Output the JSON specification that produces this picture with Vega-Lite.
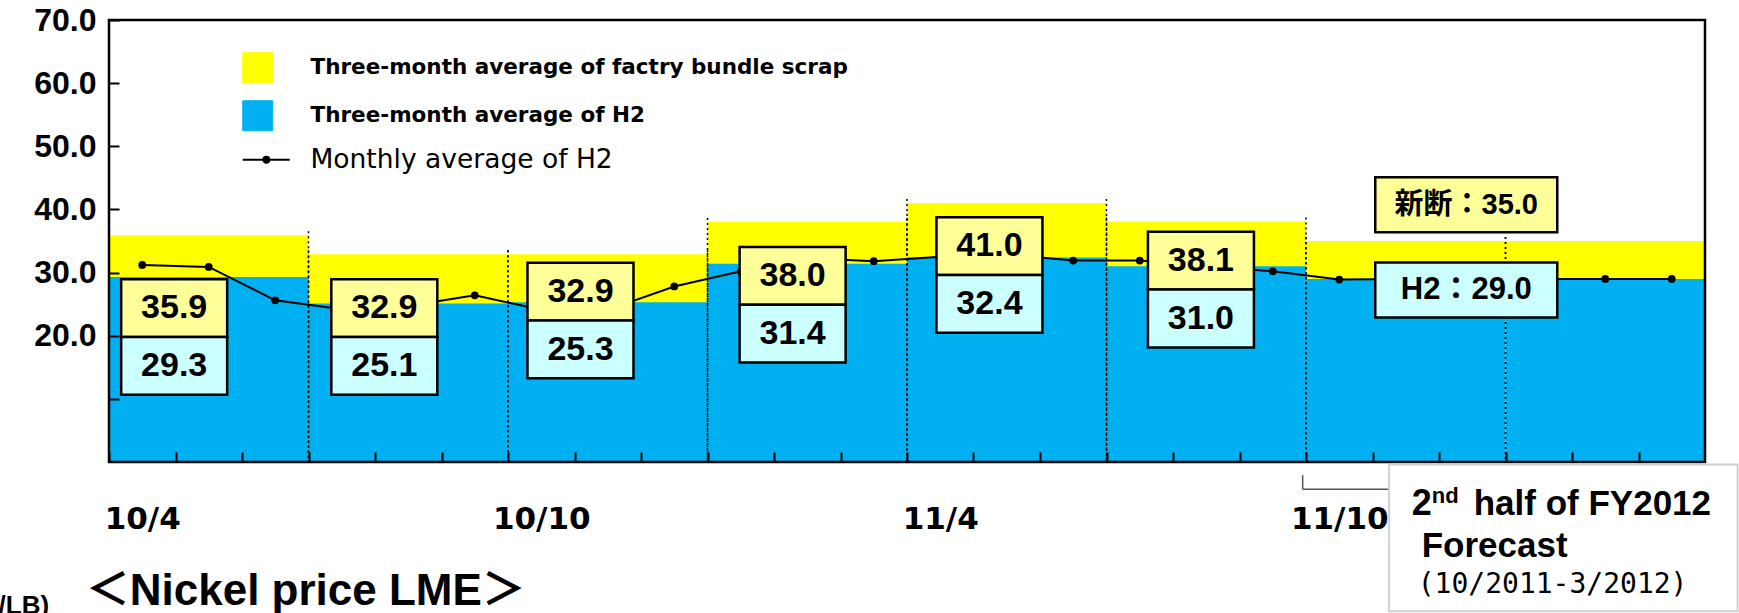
{
  "$schema": "https://vega.github.io/schema/vega-lite/v6.json",
  "width": 1596,
  "height": 442,
  "autosize": {"type": "none"},
  "padding": {"left": 109, "top": 20, "right": 34, "bottom": 151},
  "background": "white",
  "config": {"view": {"stroke": null}},
  "datasets": {
    "quarters": [
      {"period": "2010/4-6", "first": 0, "last": 2, "scrap": 35.9, "h2": 29.3, "boxMonth": 0.48, "boxLevel": 19.8},
      {"period": "2010/7-9", "first": 3, "last": 5, "scrap": 32.9, "h2": 25.1, "boxMonth": 3.64, "boxLevel": 19.8},
      {"period": "2010/10-12", "first": 6, "last": 8, "scrap": 32.9, "h2": 25.3, "boxMonth": 6.59, "boxLevel": 22.4},
      {"period": "2011/1-3", "first": 9, "last": 11, "scrap": 38.0, "h2": 31.4, "boxMonth": 9.78, "boxLevel": 24.9},
      {"period": "2011/4-6", "first": 12, "last": 14, "scrap": 41.0, "h2": 32.4, "boxMonth": 12.74, "boxLevel": 29.6},
      {"period": "2011/7-9", "first": 15, "last": 17, "scrap": 38.1, "h2": 31.0, "boxMonth": 15.92, "boxLevel": 27.3},
      {"period": "2011/10-12", "first": 18, "last": 20, "scrap": 35.0, "h2": 29.0},
      {"period": "2012/1-3", "first": 21, "last": 23, "scrap": 35.0, "h2": 29.0}
    ],
    "monthly": [
      {"month": "2010-04", "m": 0, "h2": 31.2},
      {"month": "2010-05", "m": 1, "h2": 30.9},
      {"month": "2010-06", "m": 2, "h2": 25.6},
      {"month": "2010-07", "m": 3, "h2": 24.2},
      {"month": "2010-08", "m": 4, "h2": 24.7},
      {"month": "2010-09", "m": 5, "h2": 26.4},
      {"month": "2010-10", "m": 6, "h2": 24.1},
      {"month": "2010-11", "m": 7, "h2": 24.1},
      {"month": "2010-12", "m": 8, "h2": 27.8},
      {"month": "2011-01", "m": 9, "h2": 30.2},
      {"month": "2011-02", "m": 10, "h2": 32.3},
      {"month": "2011-03", "m": 11, "h2": 31.8},
      {"month": "2011-04", "m": 12, "h2": 32.5},
      {"month": "2011-05", "m": 13, "h2": 32.9},
      {"month": "2011-06", "m": 14, "h2": 31.9},
      {"month": "2011-07", "m": 15, "h2": 31.9},
      {"month": "2011-08", "m": 16, "h2": 31.0},
      {"month": "2011-09", "m": 17, "h2": 30.2},
      {"month": "2011-10", "m": 18, "h2": 28.9},
      {"month": "2011-11", "m": 19, "h2": 29.0},
      {"month": "2011-12", "m": 20, "h2": 29.0},
      {"month": "2012-01", "m": 21, "h2": 29.0},
      {"month": "2012-02", "m": 22, "h2": 29.0},
      {"month": "2012-03", "m": 23, "h2": 29.0}
    ],
    "forecast": [
      {"period": "2011/10-2012/3", "scrap": 35.0, "h2": 29.0, "boxMonth": 19.91, "scrapLevel": 40.75, "h2Level": 27.24}
    ]
  },
  "layer": [
    {
      "data": {"name": "quarters"},
      "mark": {"type": "rect", "xOffset": -33.25, "x2Offset": 33.25},
      "encoding": {
        "x": {
          "field": "first", "type": "quantitative", "title": null,
          "scale": {"domain": [-0.5, 23.5], "nice": false, "zero": false},
          "axis": {
            "title": null,
            "values": [-0.5, 0.5, 1.5, 2.5, 3.5, 4.5, 5.5, 6.5, 7.5, 8.5, 9.5, 10.5, 11.5, 12.5, 13.5, 14.5, 15.5, 16.5, 17.5, 18.5, 19.5, 20.5, 21.5, 22.5],
            "domain": false, "grid": false,
            "tickColor": "black", "tickWidth": 2, "tickSize": -10,
            "labelExpr": "(datum.value + 0.5) % 6 === 0 ? (10 + floor((datum.value + 3.5) / 12)) + '/' + ((datum.value + 3.5) % 12 + 1) : ''",
            "labelOffset": 33.25,
            "labelFont": "DejaVu Sans", "labelFontSize": 31, "labelFontWeight": "bold", "labelColor": "black",
            "labelPadding": 52, "labelOverlap": false, "labelBound": false, "labelFlush": false, "zindex": 1
          }
        },
        "x2": {"field": "last"},
        "y": {
          "field": "scrap", "type": "quantitative", "title": null,
          "scale": {"domain": [0, 70], "nice": false},
          "axis": {
            "title": null,
            "values": [10, 20, 30, 40, 50, 60, 70],
            "domain": false, "grid": false,
            "tickColor": "black", "tickWidth": 2, "tickSize": -10,
            "labelExpr": "datum.value >= 20 ? format(datum.value, '.1f') : ''",
            "labelFont": "Liberation Sans", "labelFontSize": 32, "labelFontWeight": "bold", "labelColor": "black",
            "labelPadding": 23, "labelOverlap": false, "labelBound": false, "labelFlush": false, "zindex": 1
          }
        },
        "y2": {"datum": 0},
        "color": {
          "datum": "Three-month average of factry bundle scrap",
          "type": "nominal",
          "scale": {
            "domain": ["Three-month average of factry bundle scrap", "Three-month average of H2", "Monthly average of H2"],
            "range": ["#FFFF00", "#00B0F0", "#000000"]
          },
          "legend": {
            "title": null, "orient": "none", "legendX": 138, "legendY": 37, "direction": "vertical",
            "padding": 0, "symbolSize": 900, "rowPadding": 13, "labelOffset": 42,
            "labelFont": "DejaVu Sans", "labelFontSize": 21.5, "labelFontWeight": "bold", "labelColor": "black", "labelLimit": 900,
            "encode": {
              "symbols": {"update": {
                "shape": {"signal": "datum.value === 'Monthly average of H2' ? 'M-1,0L2.13,0M0.37,0A0.2,0.2,0,1,1,0.77,0A0.2,0.2,0,1,1,0.37,0Z' : 'square'"},
                "fill": {"signal": "scale('color', datum.value)"},
                "stroke": {"signal": "datum.value === 'Monthly average of H2' ? '#000000' : '#d9d9d9'"},
                "strokeWidth": {"signal": "datum.value === 'Monthly average of H2' ? 2 : 1"},
                "opacity": {"value": 1}, "fillOpacity": {"value": 1}
              }},
              "labels": {"update": {
                "fontWeight": {"signal": "datum.value === 'Monthly average of H2' ? 'normal' : 'bold'"},
                "fontSize": {"signal": "datum.value === 'Monthly average of H2' ? 26.5 : 21.5"}
              }}
            }
          }
        }
      }
    },
    {
      "data": {"name": "quarters"},
      "mark": {"type": "rect", "xOffset": -33.25, "x2Offset": 33.25},
      "encoding": {
        "x": {"field": "first", "type": "quantitative", "title": null},
        "x2": {"field": "last"},
        "y": {"field": "h2", "type": "quantitative", "title": null},
        "y2": {"datum": 0},
        "color": {"datum": "Three-month average of H2", "type": "nominal"}
      }
    },
    {
      "data": {"name": "quarters"},
      "mark": {"type": "rule", "xOffset": -33.25, "yOffset": -4, "color": "black", "strokeWidth": 1.5, "strokeDash": [2, 3]},
      "encoding": {
        "x": {"field": "first", "type": "quantitative", "title": null},
        "y": {"field": "scrap", "type": "quantitative", "title": null},
        "y2": {"datum": 0}
      }
    },
    {
      "data": {"name": "quarters"},
      "mark": {"type": "rule", "xOffset": 33.25, "yOffset": -4, "color": "black", "strokeWidth": 1.5, "strokeDash": [2, 3]},
      "encoding": {
        "x": {"field": "last", "type": "quantitative", "title": null},
        "y": {"field": "scrap", "type": "quantitative", "title": null},
        "y2": {"datum": 0}
      }
    },
    {
      "data": {"name": "monthly"},
      "mark": {"type": "line", "strokeWidth": 2, "point": {"filled": true, "size": 60, "opacity": 1}},
      "encoding": {
        "x": {"field": "m", "type": "quantitative", "title": null},
        "y": {"field": "h2", "type": "quantitative", "title": null},
        "color": {"datum": "Monthly average of H2", "type": "nominal"}
      }
    },
    {
      "data": {"name": "quarters"},
      "transform": [{"filter": {"field": "boxMonth", "valid": true}}],
      "mark": {"type": "point", "shape": "M-1,-1.09L1,-1.09L1,0L-1,0Z", "size": 11236, "filled": true, "fill": "#FFFF99", "stroke": "black", "strokeWidth": 2.5, "opacity": 1},
      "encoding": {
        "x": {"field": "boxMonth", "type": "quantitative", "title": null},
        "y": {"field": "boxLevel", "type": "quantitative", "title": null}
      }
    },
    {
      "data": {"name": "quarters"},
      "transform": [{"filter": {"field": "boxMonth", "valid": true}}],
      "mark": {"type": "point", "shape": "M-1,0L1,0L1,1.09L-1,1.09Z", "size": 11236, "filled": true, "fill": "#CCFFFF", "stroke": "black", "strokeWidth": 2.5, "opacity": 1},
      "encoding": {
        "x": {"field": "boxMonth", "type": "quantitative", "title": null},
        "y": {"field": "boxLevel", "type": "quantitative", "title": null}
      }
    },
    {
      "data": {"name": "quarters"},
      "transform": [{"filter": {"field": "boxMonth", "valid": true}}],
      "mark": {"type": "text", "dy": -29, "font": "Liberation Sans", "fontSize": 34, "fontWeight": "bold", "color": "black", "align": "center", "baseline": "middle"},
      "encoding": {
        "x": {"field": "boxMonth", "type": "quantitative", "title": null},
        "y": {"field": "boxLevel", "type": "quantitative", "title": null},
        "text": {"field": "scrap", "type": "quantitative", "format": ".1f"}
      }
    },
    {
      "data": {"name": "quarters"},
      "transform": [{"filter": {"field": "boxMonth", "valid": true}}],
      "mark": {"type": "text", "dy": 29, "font": "Liberation Sans", "fontSize": 34, "fontWeight": "bold", "color": "black", "align": "center", "baseline": "middle"},
      "encoding": {
        "x": {"field": "boxMonth", "type": "quantitative", "title": null},
        "y": {"field": "boxLevel", "type": "quantitative", "title": null},
        "text": {"field": "h2", "type": "quantitative", "format": ".1f"}
      }
    },
    {
      "data": {"name": "forecast"},
      "mark": {"type": "point", "shape": "M-1,-0.302L1,-0.302L1,0.302L-1,0.302Z", "size": 33124, "filled": true, "fill": "#FFFF99", "stroke": "black", "strokeWidth": 2.5, "opacity": 1},
      "encoding": {
        "x": {"field": "boxMonth", "type": "quantitative", "title": null},
        "y": {"field": "scrapLevel", "type": "quantitative", "title": null}
      }
    },
    {
      "data": {"name": "forecast"},
      "mark": {"type": "point", "shape": "M-1,-0.302L1,-0.302L1,0.302L-1,0.302Z", "size": 33124, "filled": true, "fill": "#CCFFFF", "stroke": "black", "strokeWidth": 2.5, "opacity": 1},
      "encoding": {
        "x": {"field": "boxMonth", "type": "quantitative", "title": null},
        "y": {"field": "h2Level", "type": "quantitative", "title": null}
      }
    },
    {
      "data": {"name": "forecast"},
      "transform": [{"calculate": "'新断：' + format(datum.scrap, '.1f')", "as": "scrapText"}],
      "mark": {"type": "text", "font": "Liberation Sans, Noto Sans CJK JP", "fontSize": 29, "fontWeight": "bold", "color": "black", "align": "center", "baseline": "middle"},
      "encoding": {
        "x": {"field": "boxMonth", "type": "quantitative", "title": null},
        "y": {"field": "scrapLevel", "type": "quantitative", "title": null},
        "text": {"field": "scrapText", "type": "nominal"}
      }
    },
    {
      "data": {"name": "forecast"},
      "transform": [{"calculate": "'H2：' + format(datum.h2, '.1f')", "as": "h2Text"}],
      "mark": {"type": "text", "font": "Liberation Sans, Noto Sans CJK JP", "fontSize": 31, "fontWeight": "bold", "color": "black", "align": "center", "baseline": "middle"},
      "encoding": {
        "x": {"field": "boxMonth", "type": "quantitative", "title": null},
        "y": {"field": "h2Level", "type": "quantitative", "title": null},
        "text": {"field": "h2Text", "type": "nominal"}
      }
    },
    {
      "data": {"values": [{"frame": 1}]},
      "mark": {"type": "rect", "fill": "transparent", "stroke": "black", "strokeWidth": 2.5},
      "encoding": {
        "x": {"datum": -0.5, "type": "quantitative"}, "x2": {"datum": 23.5},
        "y": {"datum": 0, "type": "quantitative"}, "y2": {"datum": 70}
      }
    },
    {
      "data": {"values": [{"bracket": 1}]},
      "mark": {"type": "rule", "color": "#555555", "strokeWidth": 1.5},
      "encoding": {"x": {"datum": 17.45, "type": "quantitative"}, "y": {"datum": -2.1, "type": "quantitative"}, "y2": {"datum": -4.3}}
    },
    {
      "data": {"values": [{"bracket": 1}]},
      "mark": {"type": "rule", "color": "#555555", "strokeWidth": 1.5},
      "encoding": {"x": {"datum": 17.45, "type": "quantitative"}, "x2": {"datum": 18.75}, "y": {"datum": -4.3, "type": "quantitative"}}
    },
    {
      "data": {"values": [{"note": 1}]},
      "mark": {"type": "rect", "fill": "white", "stroke": "#d0d0d0", "strokeWidth": 2},
      "encoding": {"x": {"datum": 18.75, "type": "quantitative"}, "x2": {"datum": 23.99}, "y": {"datum": -0.4, "type": "quantitative"}, "y2": {"datum": -23.63}}
    },
    {
      "data": {"values": [{"note": 1}]},
      "mark": {"type": "text", "text": "2", "font": "Liberation Sans", "fontSize": 36, "fontWeight": "bold", "color": "black", "align": "left", "baseline": "alphabetic"},
      "encoding": {"x": {"datum": 19.09, "type": "quantitative"}, "y": {"datum": -8.4, "type": "quantitative"}}
    },
    {
      "data": {"values": [{"note": 1}]},
      "mark": {"type": "text", "text": "nd", "dx": 20, "dy": -12, "font": "Liberation Sans", "fontSize": 22, "fontWeight": "bold", "color": "black", "align": "left", "baseline": "alphabetic"},
      "encoding": {"x": {"datum": 19.09, "type": "quantitative"}, "y": {"datum": -8.4, "type": "quantitative"}}
    },
    {
      "data": {"values": [{"note": 1}]},
      "mark": {"type": "text", "text": "half of FY2012", "dx": 62, "font": "Liberation Sans", "fontSize": 35, "fontWeight": "bold", "color": "black", "align": "left", "baseline": "alphabetic"},
      "encoding": {"x": {"datum": 19.09, "type": "quantitative"}, "y": {"datum": -8.4, "type": "quantitative"}}
    },
    {
      "data": {"values": [{"note": 1}]},
      "mark": {"type": "text", "text": "Forecast", "dx": 10, "font": "Liberation Sans", "fontSize": 35, "fontWeight": "bold", "color": "black", "align": "left", "baseline": "alphabetic"},
      "encoding": {"x": {"datum": 19.09, "type": "quantitative"}, "y": {"datum": -15.1, "type": "quantitative"}}
    },
    {
      "data": {"values": [{"note": 1}]},
      "mark": {"type": "text", "text": "(10/2011-3/2012)", "dx": 6, "font": "DejaVu Sans Mono", "fontSize": 28, "color": "black", "align": "left", "baseline": "alphabetic"},
      "encoding": {"x": {"datum": 19.09, "type": "quantitative"}, "y": {"datum": -20.8, "type": "quantitative"}}
    },
    {
      "data": {"values": [{"note": 1}]},
      "mark": {"type": "text", "text": "＜Nickel price LME＞", "font": "Liberation Sans, Noto Sans CJK JP", "fontSize": 44, "fontWeight": "bold", "color": "black", "align": "left", "baseline": "alphabetic"},
      "encoding": {"x": {"datum": -0.85, "type": "quantitative"}, "y": {"datum": -22.6, "type": "quantitative"}}
    },
    {
      "data": {"values": [{"note": 1}]},
      "mark": {"type": "text", "text": "($/LB)", "font": "Liberation Sans", "fontSize": 26, "fontWeight": "bold", "color": "black", "align": "right", "baseline": "alphabetic"},
      "encoding": {"x": {"datum": -1.4, "type": "quantitative"}, "y": {"datum": -24.0, "type": "quantitative"}}
    }
  ]
}
